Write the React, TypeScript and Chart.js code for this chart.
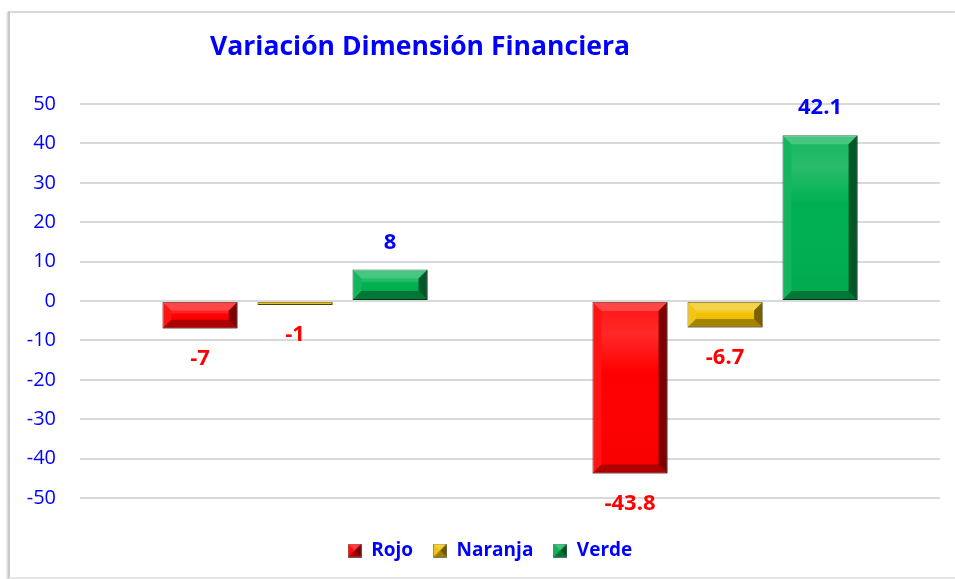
import React, { useEffect, useRef } from 'react';
import { Chart, registerables } from 'chart.js';

Chart.register(...registerables);

// ---- data ----
const categories = ['Grupo 1', 'Grupo 2'];
const seriesNames = ['Rojo', 'Naranja', 'Verde'];
const rojo = [-7, -43.8];
const naranja = [-1, -6.7];
const verde = [8, 42.1];
const yMin = -50;
const yMax = 50;
const yStep = 10;
const chartTitle = 'Variación Dimensión Financiera';

// ---- styles ----
const FACE = ['#FF0000', '#F2C200', '#00B050'];
const EDGE = ['#8a0000', '#7a6000', '#004d22'];
const BLUE = '#0000FF';
const RED = '#FF0000';
const FONT = '"Open Sans", "Noto Sans", sans-serif';

function poly(ctx: CanvasRenderingContext2D, pts: number[][], fill: string) {
  ctx.beginPath();
  ctx.moveTo(pts[0][0], pts[0][1]);
  for (let i = 1; i < pts.length; i++) ctx.lineTo(pts[i][0], pts[i][1]);
  ctx.closePath();
  ctx.fillStyle = fill;
  ctx.fill();
}

function makeIcon(color: string) {
  const c = document.createElement('canvas');
  c.width = 14;
  c.height = 14;
  const ctx = c.getContext('2d')!;
  ctx.fillStyle = color;
  ctx.fillRect(0, 0, 14, 14);
  poly(ctx, [[0, 0], [14, 0], [7, 7]], 'rgba(255,255,255,0.25)');
  poly(ctx, [[0, 0], [0, 14], [7, 7]], 'rgba(255,255,255,0.05)');
  poly(ctx, [[14, 0], [14, 14], [7, 7]], 'rgba(0,0,0,0.55)');
  poly(ctx, [[0, 14], [14, 14], [7, 7]], 'rgba(0,0,0,0.35)');
  ctx.strokeStyle = 'rgba(120,120,120,0.6)';
  ctx.lineWidth = 1;
  ctx.strokeRect(0.5, 0.5, 13, 13);
  return c;
}

const bevelPlugin = {
  id: 'bevel',
  afterDatasetsDraw(chart: any) {
    const ctx = chart.ctx as CanvasRenderingContext2D;
    ctx.save();
    chart.data.datasets.forEach((_ds: any, i: number) => {
      const meta = chart.getDatasetMeta(i);
      if (meta.hidden) return;
      meta.data.forEach((el: any) => {
        const { x, y, base, width } = el.getProps(['x', 'y', 'base', 'width'], true);
        const L = x - width / 2;
        const R = x + width / 2;
        const T = Math.min(y, base);
        const B = Math.max(y, base);
        const h = B - T;
        const b = Math.min(9, h / 3, width / 3);
        if (b < 0.8) return;
        poly(ctx, [[L, T], [R, T], [R - b, T + b], [L + b, T + b]], 'rgba(255,255,255,0.28)');
        poly(ctx, [[L, T], [L + b, T + b], [L + b, B - b], [L, B]], 'rgba(255,255,255,0.08)');
        poly(ctx, [[R, T], [R, B], [R - b, B - b], [R - b, T + b]], 'rgba(0,0,0,0.5)');
        poly(ctx, [[L, B], [R, B], [R - b, B - b], [L + b, B - b]], 'rgba(0,0,0,0.32)');
        const grad = ctx.createLinearGradient(0, T + b, 0, B - b);
        grad.addColorStop(0, 'rgba(255,255,255,0.10)');
        grad.addColorStop(0.15, 'rgba(255,255,255,0.16)');
        grad.addColorStop(0.4, 'rgba(255,255,255,0)');
        grad.addColorStop(1, 'rgba(0,0,0,0.03)');
        ctx.fillStyle = grad;
        ctx.fillRect(L + b, T + b, width - 2 * b, Math.max(0, h - 2 * b));
      });
    });
    ctx.restore();
  },
};

const labelPlugin = {
  id: 'valueLabels',
  afterDatasetsDraw(chart: any) {
    const ctx = chart.ctx as CanvasRenderingContext2D;
    ctx.save();
    ctx.font = `bold 22px ${FONT}`;
    ctx.textAlign = 'center';
    ctx.textBaseline = 'middle';
    chart.data.datasets.forEach((ds: any, i: number) => {
      const meta = chart.getDatasetMeta(i);
      if (meta.hidden) return;
      meta.data.forEach((el: any, j: number) => {
        const v = ds.data[j] as number;
        const { x, y } = el.getProps(['x', 'y'], true);
        ctx.fillStyle = v < 0 ? RED : BLUE;
        const ty = v < 0 ? y + 30 : y - 27;
        ctx.fillText(String(v), x, ty);
      });
    });
    ctx.restore();
  },
};

const titlePlugin = {
  id: 'customTitle',
  afterDraw(chart: any) {
    const ctx = chart.ctx as CanvasRenderingContext2D;
    ctx.save();
    ctx.font = `bold 27px ${FONT}`;
    ctx.fillStyle = BLUE;
    ctx.textAlign = 'center';
    ctx.textBaseline = 'middle';
    const target = 420;
    const w = ctx.measureText(chartTitle).width;
    const sx = w > target ? target / w : 1;
    ctx.translate(410, 34);
    ctx.scale(sx, 1);
    ctx.fillText(chartTitle, 0, 0);
    ctx.restore();
  },
};

const legendShiftPlugin = {
  id: 'legendShift',
  afterLayout(chart: any) {
    const lg = chart.legend;
    if (lg) {
      lg.left += 8;
      lg.right += 8;
    }
  },
};

export default function App() {
  const ref = useRef<HTMLCanvasElement>(null);

  useEffect(() => {
    const canvas = ref.current!;
    const icons = FACE.map((c) => makeIcon(c));
    const values = [rojo, naranja, verde];
    const chart = new Chart(canvas, {
      type: 'bar',
      data: {
        labels: categories,
        datasets: seriesNames.map((name, i) => ({
          label: name,
          data: values[i],
          backgroundColor: FACE[i],
          borderColor: EDGE[i],
          borderWidth: 1,
          borderSkipped: false,
          categoryPercentage: 0.663,
          barPercentage: 0.79,
        })),
      },
      options: {
        responsive: false,
        animation: false,
        layout: { padding: { left: 14, right: 15, top: 91, bottom: 9 } },
        scales: {
          x: {
            grid: { display: false },
            ticks: { display: false },
            border: { display: false },
            afterFit: (s: any) => {
              s.height = 23;
            },
          },
          y: {
            min: yMin,
            max: yMax,
            ticks: {
              stepSize: yStep,
              color: BLUE,
              padding: 24,
              font: { family: FONT, size: 20 },
            },
            grid: { color: '#d9d9d9', lineWidth: 2, drawTicks: false },
            border: { display: false },
            afterFit: (s: any) => {
              s.width = 56;
            },
          },
        },
        plugins: {
          title: { display: false },
          tooltip: { enabled: false },
          legend: {
            position: 'bottom',
            labels: {
              usePointStyle: true,
              boxWidth: 14,
              boxHeight: 14,
              padding: 20,
              color: BLUE,
              font: { family: FONT, size: 19, weight: 'bold', lineHeight: 1 },
              generateLabels: (ch: any) => {
                const items = (Chart.defaults.plugins.legend.labels as any).generateLabels(ch);
                items.forEach((it: any) => {
                  it.pointStyle = icons[it.datasetIndex];
                  it.fontColor = BLUE;
                });
                return items;
              },
            },
          },
        },
      } as any,
      plugins: [legendShiftPlugin, bevelPlugin, labelPlugin, titlePlugin],
    });
    return () => chart.destroy();
  }, []);

  return (
    <>
      <div
        style={{
          position: 'absolute',
          left: 8,
          top: 11,
          width: 947,
          height: 568,
          boxSizing: 'border-box',
          borderTop: '2px solid #d9d9d9',
          borderLeft: '2px solid #c8c8c8',
          borderBottom: '2px solid #e6e6e6',
          boxShadow: '-1px 1px 2px rgba(0,0,0,0.2)',
          background: '#fff',
        }}
      />
      <canvas
        ref={ref}
        width={945}
        height={566}
        style={{ position: 'absolute', left: 10, top: 13, width: 945, height: 566 }}
      />
    </>
  );
}
